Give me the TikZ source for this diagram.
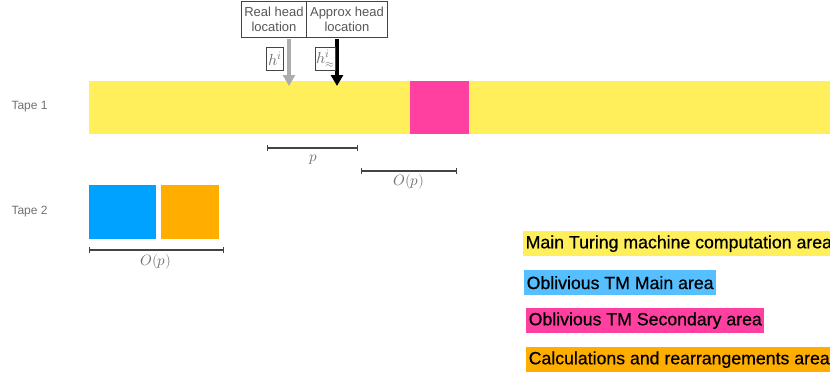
\documentclass[tikz,border=0pt]{standalone}
\usepackage{fontspec}
\setmainfont{Liberation Sans}
\newfontfamily\legendfont[FakeBold=0.6]{Liberation Sans}
\usepackage{unicode-math}
\setmathfont{Latin Modern Math}
\usetikzlibrary{arrows.meta}
\definecolor{tapeyellow}{HTML}{FFEF5A}
\definecolor{tapepink}{HTML}{FF40A0}
\definecolor{tapeblue}{HTML}{00A2FF}
\definecolor{tapeorange}{HTML}{FFAE00}
\definecolor{legblue}{HTML}{55BFFF}
\definecolor{labelgray}{HTML}{707070}
\definecolor{rulegray}{HTML}{444444}
\tikzset{
  cell/.style={draw=none, inner sep=0pt, anchor=north west},
  tapelabel/.style={font=\fontsize{12}{14}\selectfont, text=labelgray, anchor=west},
  headbox/.style={draw=rulegray, line width=0.9pt, fill=white, font=\fontsize{13}{15}\selectfont, text=rulegray!90,
    align=center, inner sep=0pt, anchor=north west, minimum height=36pt},
  mathbox/.style={draw=rulegray, line width=0.7pt, fill=white, inner sep=0.8pt, minimum height=23pt, anchor=north west,
    font=\fontsize{16}{16}\selectfont, text=labelgray},
  span/.style={rulegray, line width=1.3pt, {Bar[width=6pt]}-{Bar[width=6pt]}},
  spanlabel/.style={font=\fontsize{15}{15}\selectfont, text=labelgray, inner sep=0pt},
  legend/.style={inner xsep=2.5pt, inner ysep=0pt, anchor=north west, font=\legendfont\fontsize{17.7}{20}\selectfont,
    text=black, minimum height=25pt},
  headarrow/.style={line width=4pt, -{Triangle[width=12pt,length=11pt]}}
}
\begin{document}
\begin{tikzpicture}[x=1pt,y=-1pt]
\useasboundingbox (0,0) rectangle (830,375);

% Tape 1
\node[tapelabel] (t1) at (8,107) {Tape 1};
\node[cell, fill=tapeyellow, minimum width=741pt, minimum height=53pt] (main) at (89,81) {};
\node[cell, fill=tapepink, minimum width=59pt, minimum height=53pt] (sec) at (410,81) {};

% Tape 2
\node[tapelabel] (t2) at (8,212) {Tape 2};
\node[cell, fill=tapeblue, minimum width=67pt, minimum height=54pt] (obl) at (89,185) {};
\node[cell, fill=tapeorange, minimum width=58pt, minimum height=54pt] (calc) at (161,185) {};

% Head location captions
\node[headbox, minimum width=65pt] (real) at (241,0.5) {Real head\\location};
\node[headbox, minimum width=81pt] (approx) at (306,0.5) {Approx head\\location};

% Head arrows
\coordinate (realtop) at (289,39);
\coordinate (realtip) at (289,86);
\coordinate (apxtop) at (337,39);
\coordinate (apxtip) at (337,86);
\draw[headarrow, color=black!32] (realtop) -- (realtip);
\draw[headarrow, color=black] (apxtop) -- (apxtip);
\node[mathbox, minimum width=17pt] (hi) at (266,47) {$h^{i}$};
\node[mathbox, minimum width=20pt] (happ) at (315,47) {$h^{i}_{\approx}$};

% Spans
\coordinate (pL) at (267,148);
\coordinate (pR) at (358,148);
\draw[span] (pL) -- (pR);
\node[spanlabel] (plab) at (313,160) {$p$};
\coordinate (oL) at (361,171);
\coordinate (oR) at (457,171);
\draw[span] (oL) -- (oR);
\node[spanlabel] (olab) at (409,182) {$O(p)$};
\coordinate (qL) at (89,250);
\coordinate (qR) at (224,250);
\draw[span] (qL) -- (qR);
\node[spanlabel] (qlab) at (156,262) {$O(p)$};

% Legend
\node[legend, fill=tapeyellow] (l1) at (523,231) {Main Turing machine computation area};
\node[legend, fill=legblue] (l2) at (524,270) {Oblivious TM Main area};
\node[legend, fill=tapepink] (l3) at (526,308) {Oblivious TM Secondary area};
\node[legend, fill=tapeorange] (l4) at (526,347) {Calculations and rearrangements area};
\end{tikzpicture}
\end{document}
